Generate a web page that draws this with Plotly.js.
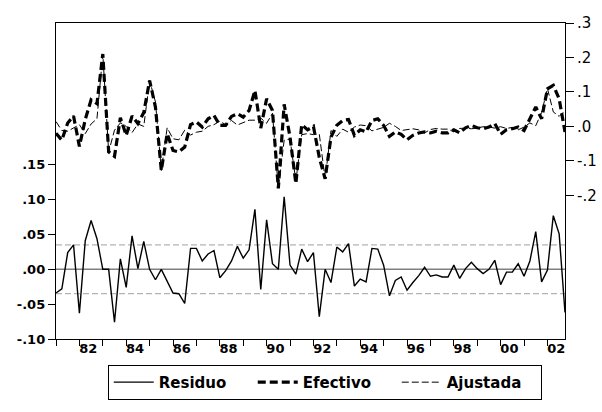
<!DOCTYPE html>
<html><head><meta charset="utf-8">
<script src="https://cdn.plot.ly/plotly-3.0.1.min.js"></script>
<style>html,body{margin:0;padding:0;background:#fff}#chart{width:602px;height:412px}</style>
</head><body><div id="chart"></div>
<script>
const startYear = 1981;
const residuo = [-0.034,-0.028,0.024,0.035,-0.063,0.041,0.070,0.044,0.0,0.0,
-0.076,0.015,-0.026,0.048,0.001,0.040,0.0,-0.015,0.0,-0.017,
-0.034,-0.035,-0.049,0.030,0.030,0.012,0.022,0.027,-0.012,-0.002,
0.012,0.033,0.016,0.028,0.086,-0.029,0.071,0.008,0.0,0.104,
0.006,-0.007,0.029,0.011,0.024,-0.068,0.0,-0.019,0.032,0.025,
0.037,-0.024,-0.014,-0.018,0.030,0.029,0.006,-0.038,-0.016,-0.011,
-0.030,-0.019,-0.009,0.003,-0.010,-0.008,-0.011,-0.011,0.006,-0.013,
0.001,0.010,0.001,-0.006,0.0,0.013,-0.022,-0.004,-0.004,0.008,
-0.010,0.012,0.054,-0.018,-0.001,0.077,0.051,-0.062];
const efectivo = [-0.02,-0.04,0.01,0.03,-0.058,0.02,0.077,0.066,0.21,-0.074,
-0.087,0.025,-0.026,0.03,0.008,0.04,0.133,0.056,-0.128,-0.021,
-0.07,-0.074,-0.06,0.005,0.013,-0.002,0.022,0.032,0.003,0.003,
0.029,0.037,0.027,0.046,0.104,-0.005,0.08,0.046,-0.18,0.064,
-0.031,-0.166,0.005,-0.01,0.0,-0.09,-0.152,-0.031,0.003,0.017,
0.02,-0.026,-0.01,-0.016,0.017,0.022,0.003,-0.029,-0.016,-0.023,
-0.039,-0.026,-0.019,-0.016,-0.019,-0.014,-0.019,-0.019,-0.01,-0.019,
-0.004,0.003,-0.004,-0.007,-0.002,0.008,-0.023,-0.01,-0.007,-0.002,
-0.012,0.022,0.056,0.022,0.109,0.119,0.08,-0.016];
const ajustada = [0.014,-0.012,-0.014,-0.005,0.005,-0.021,0.007,0.022,0.21,-0.074,
-0.011,0.01,0.0,-0.018,0.007,0.0,0.133,0.071,-0.128,-0.004,
-0.036,-0.039,-0.011,-0.025,-0.017,-0.014,0.0,0.005,0.015,0.005,
0.017,0.004,0.011,0.018,0.018,0.024,0.009,0.038,-0.18,-0.04,
-0.037,-0.159,-0.024,-0.021,-0.024,-0.022,-0.152,-0.012,-0.029,-0.008,
-0.017,-0.002,0.004,0.002,-0.013,-0.007,-0.003,0.009,0.0,-0.012,
-0.009,-0.007,-0.01,-0.019,-0.009,-0.006,-0.008,-0.008,-0.016,-0.006,
-0.005,-0.007,-0.005,-0.001,-0.002,-0.005,-0.001,-0.006,-0.003,-0.01,
-0.002,0.01,0.002,0.04,0.11,0.042,0.029,0.046];
const stdErr = 0.035;
const labelYears = [1982,1984,1986,1988,1990,1992,1994,1996,1998,2000,2002];
const yearLabels = ['82','84','86','88','90','92','94','96','98','00','02'];
const leftTicks = [-0.10,-0.05,0,0.05,0.10,0.15];
const leftTickText = ['-.10','-.05','.00','.05','.10','.15'];
const rightTicks = [-0.2,-0.1,0,0.1,0.2,0.3];
const rightTickText = ['-.2','-.1','.0','.1','.2','.3'];

const t = residuo.map((_, i) => startYear + i / 4);
const lastT = t[t.length - 1];
const tickYears = [];
for (let y = startYear; y <= Math.floor(lastT); y++) tickYears.push(y);
const labelPos = labelYears.map(y => y + 0.375);

const boldFont = {family: 'DejaVu Sans', size: 13, color: '#000', weight: 'bold'};

const traces = [
  {x: t, y: residuo, xaxis: 'x', yaxis: 'y', mode: 'lines', name: 'Residuo',
   line: {color: '#000', width: 1.4}},
  {x: t, y: efectivo, xaxis: 'x2', yaxis: 'y2', mode: 'lines', name: 'Efectivo',
   line: {color: '#000', width: 3.2, dash: '8px,4px'}},
  {x: t, y: ajustada, xaxis: 'x2', yaxis: 'y2', mode: 'lines', name: 'Ajustada',
   line: {color: '#000', width: 1, dash: '7px,3px'}}
];

const layout = {
  width: 602, height: 412,
  margin: {l: 56, r: 37, t: 23, b: 73, pad: 0},
  paper_bgcolor: '#fff', plot_bgcolor: '#fff',
  showlegend: true,
  font: {family: 'DejaVu Sans', color: '#000'},
  xaxis: {range: [startYear, lastT], tickmode: 'array', tickvals: tickYears,
    showticklabels: false, ticks: 'outside', ticklen: 6, tickwidth: 1, tickcolor: '#000',
    showgrid: false, zeroline: false, showline: true, linecolor: '#000', linewidth: 1.2, mirror: true},
  xaxis2: {range: [startYear, lastT], overlaying: 'x', anchor: 'y2', side: 'bottom',
    tickmode: 'array', tickvals: labelPos, ticktext: yearLabels, ticks: '', ticklen: 6,
    showgrid: false, zeroline: false, showline: false, tickfont: boldFont},
  yaxis: {range: [-0.10, 0.3535], tickmode: 'array', tickvals: leftTicks, ticktext: leftTickText,
    ticks: 'outside', ticklen: 7, tickwidth: 1, tickcolor: '#000', tickfont: boldFont,
    showgrid: false, zeroline: false, showline: true, linecolor: '#000', linewidth: 1.2, mirror: true},
  yaxis2: {range: [-0.617, 0.30], overlaying: 'y', anchor: 'x2', side: 'right',
    tickmode: 'array', tickvals: rightTicks, ticktext: rightTickText,
    ticks: 'outside', ticklen: 8, tickwidth: 1, tickcolor: '#000',
    tickfont: {family: 'DejaVu Sans', size: 15, color: '#000'},
    showgrid: false, zeroline: false, showline: false},
  shapes: [
    {type: 'line', xref: 'paper', x0: 0, x1: 1, yref: 'y', y0: 0, y1: 0,
     line: {color: '#808080', width: 1.6}, layer: 'below'},
    {type: 'line', xref: 'paper', x0: 0, x1: 1, yref: 'y', y0: stdErr, y1: stdErr,
     line: {color: '#a0a0a0', width: 1, dash: '6px,3px'}, layer: 'below'},
    {type: 'line', xref: 'paper', x0: 0, x1: 1, yref: 'y', y0: -stdErr, y1: -stdErr,
     line: {color: '#a0a0a0', width: 1, dash: '6px,3px'}, layer: 'below'}
  ],
  legend: {orientation: 'h', x: 0.528, xanchor: 'center', y: -0.082, yanchor: 'top',
    bordercolor: '#000', borderwidth: 1, bgcolor: '#fff', itemwidth: 40,
    entrywidth: 89, entrywidthmode: 'pixels',
    font: {family: 'DejaVu Sans', size: 15, color: '#000', weight: 'bold'},
    tracegroupgap: 0, itemclick: false}
};

Plotly.newPlot('chart', traces, layout, {staticPlot: true, displayModeBar: false});
</script>
</body></html>
